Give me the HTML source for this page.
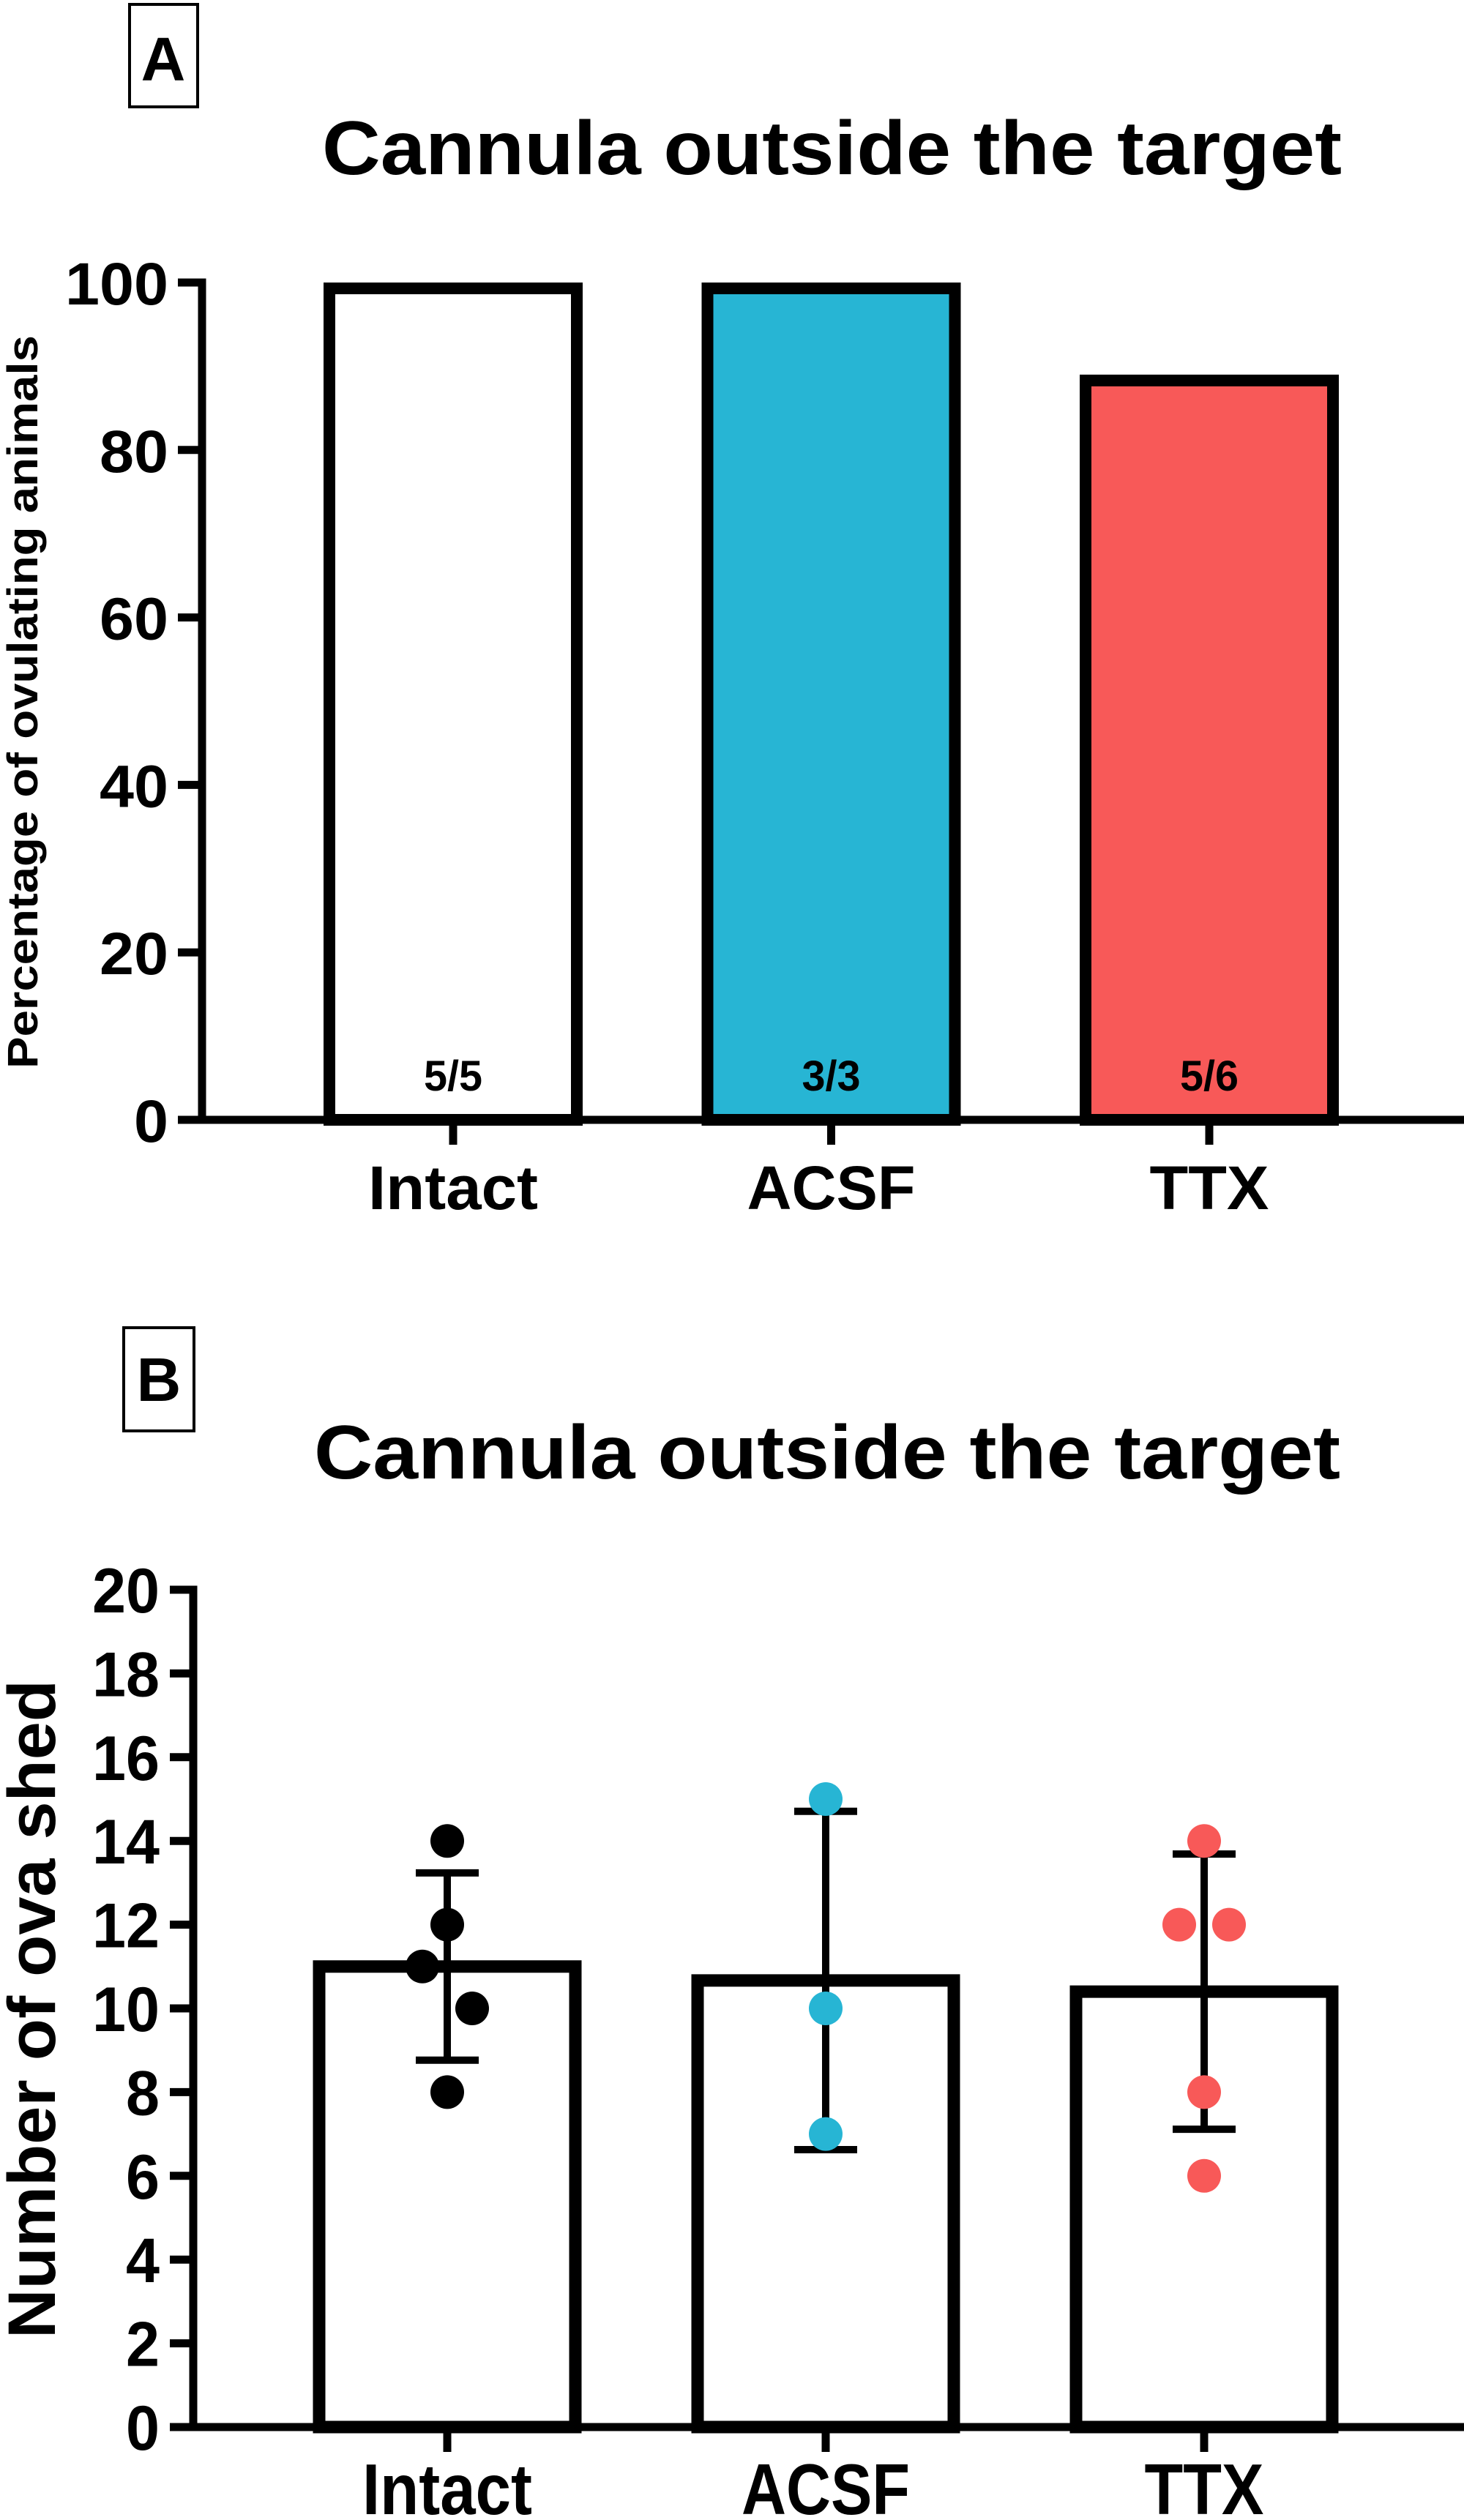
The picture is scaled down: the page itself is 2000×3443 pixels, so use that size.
<!DOCTYPE html>
<html><head><meta charset="utf-8"><style>
html,body{margin:0;padding:0;background:#fff;}
svg{display:block;}
text{font-family:"Liberation Sans",Arial,sans-serif;font-weight:bold;fill:#000;}
</style></head><body>
<svg id="fig" width="2000" height="3443" viewBox="0 0 2000 3443" xmlns="http://www.w3.org/2000/svg">
<g id="panelA"></g>
<g id="panelB"></g>
</svg>
<script>
const categories = ["Intact", "ACSF", "TTX"];
const pctValues = [100, 100, 89];
const nLabels = ["5/5", "3/3", "5/6"];
const pctTicks = [0, 20, 40, 60, 80, 100];
const ovaIntact = [14, 12, 11, 10, 8];
const ovaACSF = [15, 10, 7];
const ovaTTX = [14, 12, 12, 8, 6];
const ovaTicks = [0, 2, 4, 6, 8, 10, 12, 14, 16, 18, 20];
const fills = ["#ffffff", "#27b5d4", "#f85958"];
const dotColors = ["#000000", "#27b5d4", "#f85958"];

const NS = "http://www.w3.org/2000/svg";
function mk(parent, tag, attrs, text) {
  const e = document.createElementNS(NS, tag);
  for (const k in attrs) e.setAttribute(k, attrs[k]);
  if (text !== undefined) e.textContent = text;
  parent.appendChild(e);
  return e;
}

// ---------- Panel A ----------
const A = document.getElementById("panelA");
const yA = v => 1530 - (v / 100) * (1530 - 386);
const xA = i => 619 + i * 516.5;
const axA = 276;

let box = mk(A, "rect", {x: 177, y: 6, width: 93, height: 140, fill: "none", stroke: "#000", "stroke-width": 4});


let t = mk(A, "text", {x: 223, y: 110, "font-size": 84, "text-anchor": "middle"}, "A");


t = mk(A, "text", {x: 440, y: 238, "font-size": 104, textLength: 1393, lengthAdjust: "spacingAndGlyphs"}, "Cannula outside the target");


t = mk(A, "text", {x: 0, y: 0, "font-size": 58, "text-anchor": "middle", textLength: 1002, lengthAdjust: "spacingAndGlyphs", transform: "translate(51,959) rotate(-90)"}, "Percentage of ovulating animals");



pctValues.forEach((v, i) => {
  const cx = xA(i);
  const r = mk(A, "rect", {x: cx - 169, y: yA(v) + 8, width: 338, height: yA(0) - yA(v) - 8, fill: fills[i], stroke: "#000", "stroke-width": 16});
  
  
  const n = mk(A, "text", {x: cx, y: 1490, "font-size": 58, "text-anchor": "middle", textLength: 80, lengthAdjust: "spacingAndGlyphs"}, nLabels[i]);
  
  
  const tk = mk(A, "line", {x1: cx, x2: cx, y1: yA(0), y2: yA(0) + 34, stroke: "#000", "stroke-width": 11});
  
  
  const lw = [232, 230, 163][i];
  const lb = mk(A, "text", {x: cx, y: 1652, "font-size": 84, "text-anchor": "middle", textLength: lw, lengthAdjust: "spacingAndGlyphs"}, categories[i]);
  
  
});
let ln = mk(A, "line", {x1: axA, x2: axA, y1: yA(100) - 5.5, y2: yA(0) + 5.5, stroke: "#000", "stroke-width": 11});


ln = mk(A, "line", {x1: axA, x2: 2000, y1: yA(0), y2: yA(0), stroke: "#000", "stroke-width": 11});


pctTicks.forEach(v => {
  const tk = mk(A, "line", {x1: 243, x2: axA, y1: yA(v), y2: yA(v), stroke: "#000", "stroke-width": 11});
  
  
  const s = String(v);
  const tl = mk(A, "text", {x: 230, y: yA(v) + 30, "font-size": 82, "text-anchor": "end", textLength: s.length * 47, lengthAdjust: "spacingAndGlyphs"}, s);
  
  
});

// ---------- Panel B ----------
const B = document.getElementById("panelB");
const yB = v => 3316 - (v / 20) * (3316 - 2172);
const xB = i => 611 + i * 517;
const axB = 264;
const groups = [ovaIntact, ovaACSF, ovaTTX];

box = mk(B, "rect", {x: 169, y: 1814, width: 96, height: 141, fill: "none", stroke: "#000", "stroke-width": 4});


t = mk(B, "text", {x: 217, y: 1914, "font-size": 84, "text-anchor": "middle"}, "B");


t = mk(B, "text", {x: 429, y: 2020, "font-size": 104, textLength: 1402, lengthAdjust: "spacingAndGlyphs"}, "Cannula outside the target");


t = mk(B, "text", {x: 0, y: 0, "font-size": 92, "text-anchor": "middle", textLength: 900, lengthAdjust: "spacingAndGlyphs", transform: "translate(75,2745) rotate(-90)"}, "Number of ova shed");



groups.forEach((g, i) => {
  const cx = xB(i);
  const mean = g.reduce((a, b) => a + b, 0) / g.length;
  const sd = Math.sqrt(g.reduce((a, b) => a + (b - mean) * (b - mean), 0) / (g.length - 1));
  const r = mk(B, "rect", {x: cx - 175, y: yB(mean), width: 350, height: yB(0) - yB(mean), fill: "#fff", stroke: "#000", "stroke-width": 17});
  
  
  const e = mk(B, "line", {x1: cx, x2: cx, y1: yB(mean + sd), y2: yB(mean - sd), stroke: "#000", "stroke-width": 10});
  
  
  [mean + sd, mean - sd].forEach(v => {
    const c = mk(B, "line", {x1: cx - 43, x2: cx + 43, y1: yB(v), y2: yB(v), stroke: "#000", "stroke-width": 10});
    
    
  });
  const counts = {};
  g.forEach(v => { counts[v] = (counts[v] || 0) + 1; });
  const seen = {};
  g.forEach((v, j) => {
    let dx = 0;
    if (counts[v] > 1) { seen[v] = (seen[v] || 0) + 1; dx = seen[v] === 1 ? -34 : 34; }
    if (i === 0 && v === 10) dx = 34;
    if (i === 0 && v === 11) dx = -34;
    const d = mk(B, "circle", {cx: cx + dx, cy: yB(v), r: 23, fill: dotColors[i]});
    
    
  });
  const tk = mk(B, "line", {x1: cx, x2: cx, y1: yB(0), y2: yB(0) + 34, stroke: "#000", "stroke-width": 11});
  
  
  const lw = [232, 230, 163][i];
  const lb = mk(B, "text", {x: cx, y: 3435, "font-size": 98, "text-anchor": "middle", textLength: lw, lengthAdjust: "spacingAndGlyphs"}, categories[i]);
  
  
});
ln = mk(B, "line", {x1: axB, x2: axB, y1: yB(20) - 5.5, y2: yB(0) + 5.5, stroke: "#000", "stroke-width": 11});


ln = mk(B, "line", {x1: axB, x2: 2000, y1: yB(0), y2: yB(0), stroke: "#000", "stroke-width": 11});


ovaTicks.forEach(v => {
  const tk = mk(B, "line", {x1: 232, x2: axB, y1: yB(v), y2: yB(v), stroke: "#000", "stroke-width": 11});
  
  
  const s = String(v);
  const tl = mk(B, "text", {x: 218, y: yB(v) + 31, "font-size": 86, "text-anchor": "end", textLength: s.length * 46, lengthAdjust: "spacingAndGlyphs"}, s);
  
  
});
</script>
</body></html>
